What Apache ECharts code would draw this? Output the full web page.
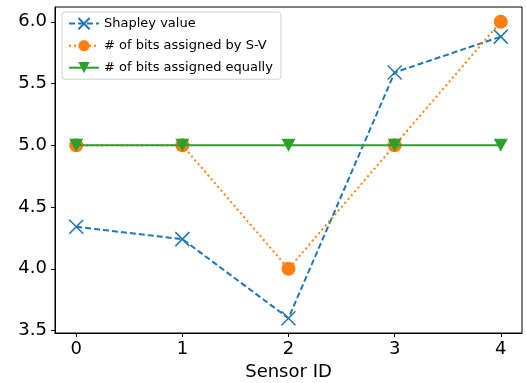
<!DOCTYPE html>
<html>
<head>
<meta charset="utf-8">
<script src="https://cdn.jsdelivr.net/npm/echarts@6/dist/echarts.min.js"></script>
<style>
html,body{margin:0;padding:0;background:#fff;}
#chart{width:526px;height:383px;}
</style>
</head>
<body>
<div id="chart"></div>
<script>
// sensor ids on the x axis
var sensorIds = [0, 1, 2, 3, 4];
var shapley = [4.34, 4.24, 3.60, 5.59, 5.88];
var bitsSV = [5, 5, 4, 5, 6];
var bitsEqual = [5, 5, 5, 5, 5];
var yTicks = [3.5, 4.0, 4.5, 5.0, 5.5, 6.0];

function pairs(vals){
    var out = [];
    for(var i=0;i<sensorIds.length;i++){ out.push([sensorIds[i], vals[i]]); }
    return out;
}

var font = 'DejaVu Sans';
var chart = echarts.init(document.getElementById('chart'));
chart.setOption({
    animation:false,
    backgroundColor:'#fff',
    textStyle:{fontFamily:font},
    grid:{left:55,right:4,top:7,bottom:50,containLabel:false,outerBoundsMode:'none',
        show:true,borderColor:'#000',borderWidth:1,backgroundColor:'transparent'},
    legend:{
        orient:'vertical',left:62,top:12,
        padding:[5,8,5,6],itemGap:9,itemWidth:30,itemHeight:14,
        backgroundColor:'rgba(255,255,255,0.8)',
        borderColor:'#d0d0d0',borderWidth:1,borderRadius:3,
        textStyle:{fontFamily:font,fontSize:13,color:'#000'},
        data:['Shapley value','# of bits assigned by S-V','# of bits assigned equally']
    },
    xAxis:{
        type:'value',min:-0.2,max:4.2,
        name:'Sensor ID',nameLocation:'middle',nameGap:28,
        nameTextStyle:{fontFamily:font,fontSize:18,color:'#000',verticalAlign:'top'},
        axisLine:{show:true,onZero:false,lineStyle:{color:'#000'}},
        axisTick:{show:true,length:4,inside:false,customValues:sensorIds,lineStyle:{color:'#000'}},
        axisLabel:{customValues:sensorIds,fontSize:18,color:'#000',margin:7,fontFamily:font},
        splitLine:{show:false}
    },
    yAxis:{
        type:'value',min:3.48,max:6.12,
        axisLine:{show:true,onZero:false,lineStyle:{color:'#000'}},
        axisTick:{show:true,length:4,customValues:yTicks,lineStyle:{color:'#000'}},
        axisLabel:{customValues:yTicks,fontSize:18,color:'#000',margin:8,fontFamily:font,
            formatter:function(v){return v.toFixed(1);}},
        splitLine:{show:false}
    },
    series:[
        {
            name:'Shapley value',type:'line',data:pairs(shapley),
            symbol:'path://M0,0L10,10M10,0L0,10',symbolSize:14,
            itemStyle:{color:'#1f77b4',borderColor:'#1f77b4',borderWidth:1.5},
            lineStyle:{color:'#1f77b4',width:2,type:[6,3]},
            z:2
        },
        {
            name:'# of bits assigned by S-V',type:'line',data:pairs(bitsSV),
            symbol:'circle',symbolSize:14,
            itemStyle:{color:'#ff7f0e',borderWidth:0},
            lineStyle:{color:'#ff7f0e',width:2,type:[2,3]},
            z:3
        },
        {
            name:'# of bits assigned equally',type:'line',data:pairs(bitsEqual),
            symbol:'path://M0,0L10,0L5,9Z',symbolSize:[14,13],
            itemStyle:{color:'#2ca02c',borderWidth:0},
            lineStyle:{color:'#2ca02c',width:2,type:'solid'},
            z:4
        }
    ]
});
</script>
</body>
</html>
